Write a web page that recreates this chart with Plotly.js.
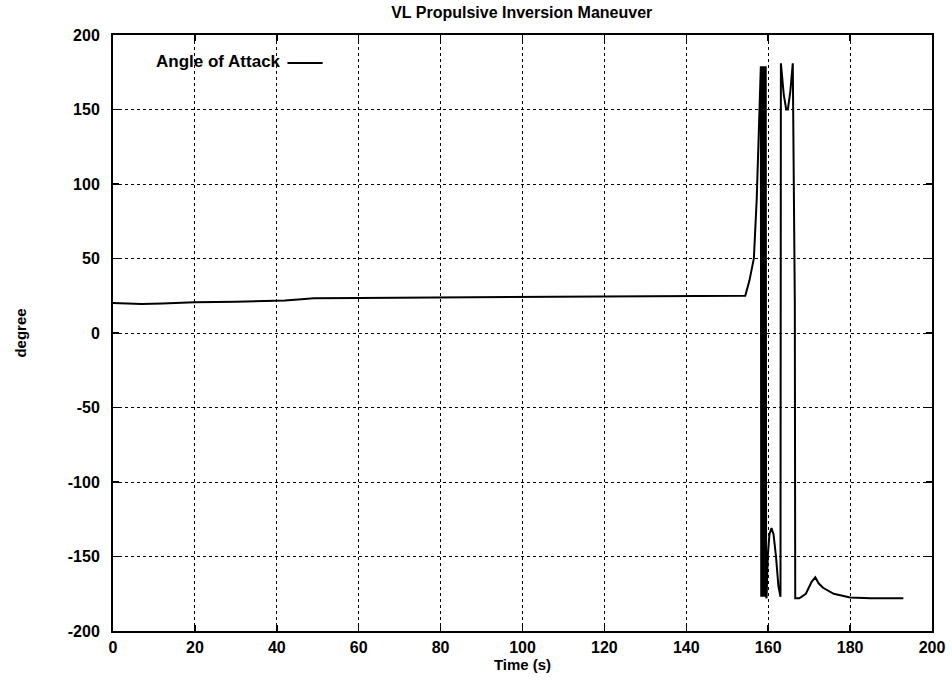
<!DOCTYPE html>
<html>
<head>
<meta charset="utf-8">
<script src="https://cdn.plot.ly/plotly-3.0.1.min.js"></script>
<style>html,body{margin:0;padding:0;background:#fff;}#chart{width:952px;height:682px;}</style>
</head>
<body>
<div id="chart"></div>
<script>
var timeS = [0, 3, 7, 12, 20, 30, 37, 42, 46, 49, 60, 80, 100, 120, 140, 150, 154.4,
  155.4, 156.5, 157.2, 157.7, 158.2,
  158.3, 158.4, 158.5, 158.6, 158.7, 158.8, 158.9, 159.0, 159.1, 159.2, 159.3, 159.4, 159.5, 159.6,
  159.9, 160.3, 160.8, 161.3, 161.9, 162.5, 163.0, 163.1,
  163.8, 164.4, 164.8, 165.4, 166.0, 166.5, 166.6,
  167.6, 169.2, 170.6, 171.5, 172.3, 173.4, 176, 180, 185, 193];
var angleOfAttack = [20.2, 20, 19.5, 19.8, 20.6, 21, 21.3, 21.8, 22.6, 23.3, 23.5, 23.8, 24, 24.3, 24.6, 24.8, 25,
  35, 50, 90, 140, 179,
  -177, 179, -177, 179, -177, 179, -177, 179, -177, 179, -177, 179, -177, -178,
  -150, -135, -131, -135, -150, -170, -177, 181,
  160, 150, 150, 162, 181, 20, -178,
  -178, -175, -167, -164, -168, -171, -175, -177.5, -178, -178];
var xTicks = [0, 20, 40, 60, 80, 100, 120, 140, 160, 180, 200];
var yTicks = [-200, -150, -100, -50, 0, 50, 100, 150, 200];

var fontFam = 'Liberation Sans, Arial, Helvetica, sans-serif';
var trace = {
  x: timeS, y: angleOfAttack, type: 'scatter', mode: 'lines',
  name: 'Angle of Attack', line: {color: '#000', width: 2}, showlegend: false
};
var axisCommon = {
  showline: true, linecolor: '#000', linewidth: 2, mirror: 'ticks',
  ticks: 'inside', ticklen: 6, tickcolor: '#000', tickwidth: 1.5,
  showgrid: true, gridcolor: '#000', gridwidth: 1, griddash: 'dot',
  zeroline: false, tickfont: {family: fontFam, size: 16, color: '#000', weight: 'bold'}
};
var layout = {
  width: 952, height: 682,
  margin: {l: 113, r: 20, t: 35, b: 51},
  paper_bgcolor: '#fff', plot_bgcolor: '#fff',
  title: {text: 'VL Propulsive Inversion Maneuver', x: 0.548, xanchor: 'center', y: 0.982, yanchor: 'middle',
    font: {family: fontFam, size: 16, color: '#000', weight: 'bold'}},
  xaxis: Object.assign({}, axisCommon, {range: [0, 200], tickvals: xTicks, ticktext: xTicks.map(String),
    ticklabelstandoff: 1,
    title: {text: 'Time (s)', standoff: 0, font: {family: fontFam, size: 15, color: '#000', weight: 'bold'}}}),
  yaxis: Object.assign({}, axisCommon, {range: [-200, 200], tickvals: yTicks, ticktext: yTicks.map(String),
    ticklabelstandoff: 8,
    title: {text: 'degree', standoff: 38, font: {family: fontFam, size: 15, color: '#000', weight: 'bold'}}}),
  annotations: [{
    xref: 'paper', yref: 'paper', x: 0.207, y: 0.955, xanchor: 'right', yanchor: 'middle',
    text: 'Angle of Attack', showarrow: false,
    font: {family: fontFam, size: 17, color: '#000', weight: 'bold'}
  }],
  shapes: [{
    type: 'line', xref: 'paper', yref: 'paper', x0: 0.213, x1: 0.256, y0: 0.953, y1: 0.953,
    line: {color: '#000', width: 2}
  }]
};
Plotly.newPlot('chart', [trace], layout, {displayModeBar: false, staticPlot: true});
</script>
</body>
</html>
